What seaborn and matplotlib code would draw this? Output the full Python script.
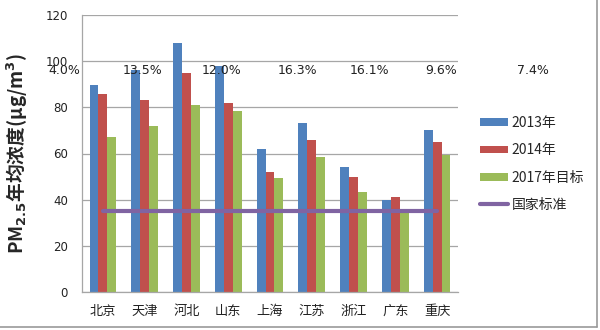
import numpy as np
import pandas as pd
import matplotlib
matplotlib.use('Agg')
import matplotlib.pyplot as plt
import seaborn as sns
from matplotlib.lines import Line2D

sns.set_style('white')
plt.rcParams['font.family'] = ['Noto Sans CJK SC', 'DejaVu Sans']
plt.rcParams['axes.unicode_minus'] = False

# 数据
cities = ['北京', '天津', '河北', '山东', '上海', '江苏', '浙江', '广东', '重庆']
pm_2013 = [89.5, 96, 108, 98, 62, 73, 54, 40, 70]
pm_2014 = [85.9, 83, 95, 82, 52, 66, 50, 41, 65]
pm_2017 = [67.1, 72, 81, 78.4, 49.6, 58.4, 43.2, 35, 59.5]
national_std = 35
series_names = ['2013年', '2014年', '2017年目标']
drop_labels = ['4.0%', '13.5%', '12.0%', '16.3%', '16.1%', '9.6%', '7.4%']

colors = ['#4F81BD', '#C0504D', '#9BBB59']
std_color = '#8064A2'

df = pd.DataFrame({
    'city': cities * 3,
    'value': pm_2013 + pm_2014 + pm_2017,
    'series': [s for s in series_names for _ in cities],
})

fig = plt.figure(figsize=(6, 3.3), dpi=100)
ax = fig.add_axes([82 / 600, 1 - 292 / 330, 376 / 600, 277 / 330])

sns.barplot(data=df, x='city', y='value', hue='series', hue_order=series_names,
            palette=colors, width=0.64, gap=0, saturation=1, ax=ax, legend=True,
            linewidth=0, edgecolor='none')

# 国家标准线
ax.plot(np.arange(len(cities)), [national_std] * len(cities), color=std_color,
        lw=3, label='国家标准', zorder=5)

ax.set_ylim(0, 120)
ax.set_xlim(-0.5, len(cities) - 0.5)
ax.set_yticks(range(0, 121, 20))
ax.yaxis.grid(True, color='#A6A6A6', lw=0.9)
ax.set_axisbelow(True)
ax.spines['top'].set_visible(False)
ax.spines['right'].set_visible(False)
for s in ['left', 'bottom']:
    ax.spines[s].set_color('#A6A6A6')
    ax.spines[s].set_linewidth(0.9)

# 类别之间的刻度线
ax.set_xticks(np.arange(-0.5, len(cities), 1), minor=True)
ax.tick_params(axis='x', which='major', length=0, pad=9, labelsize=9.5, colors='#222222')
ax.tick_params(axis='x', which='minor', length=4, width=0.9, color='#A6A6A6', direction='out')
ax.tick_params(axis='y', length=4, width=0.9, color='#A6A6A6', pad=6, labelsize=8.5,
               labelcolor='#222222')
for t in ax.get_yticklabels():
    t.set_fontfamily('DejaVu Sans')

ax.set_xlabel('')
ax.set_ylabel(r'PM$_{\mathbf{2.5}}$年均浓度(μg/m$^{\mathbf{3}}$)', fontsize=13.5,
              fontweight='bold')
ax.yaxis.set_label_coords(-0.138, 0.5)

handles, labels = ax.get_legend_handles_labels()
ax.legend(handles, labels, loc='center left', bbox_to_anchor=(1.058, 0.462),
          frameon=False, fontsize=10, handlelength=2.0, handleheight=0.5,
          handletextpad=0.3, labelspacing=0.95, borderpad=0, borderaxespad=0)

# 降幅标注
label_x = [64, 143, 222, 297, 369, 441, 533]
for lx, txt in zip(label_x, drop_labels):
    fig.text(lx / 600, 1 - 71 / 330, txt, ha='center', va='center', fontsize=9,
             family='DejaVu Sans', color='#222222')

# 外框
fig.add_artist(Line2D([0, 0.995], [0.008, 0.008], color='#999999', lw=1.2))
fig.add_artist(Line2D([0.995, 0.995], [0.008, 1], color='#999999', lw=1.2))

fig.savefig('out.png', dpi=100)
